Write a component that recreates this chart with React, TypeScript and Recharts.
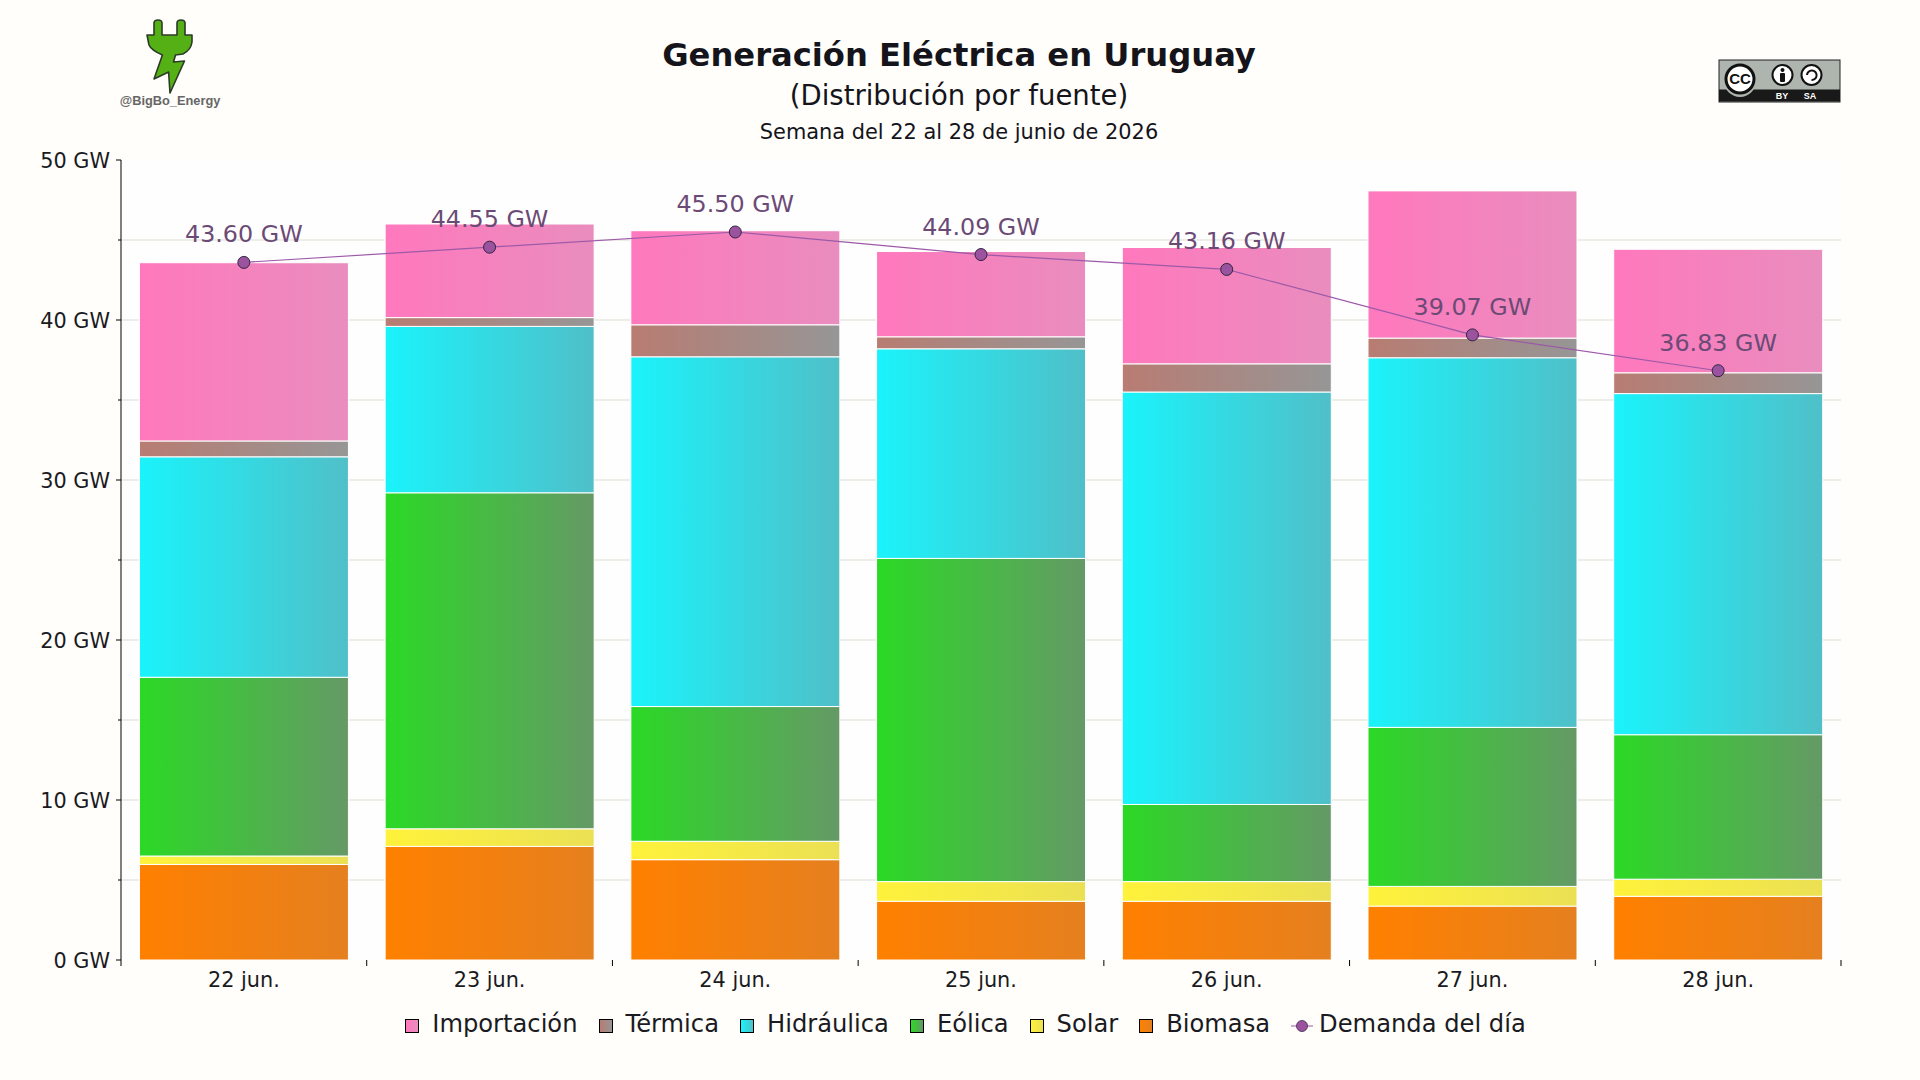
import { Bar, CartesianGrid, ComposedChart, LabelList, Legend, Line, XAxis, YAxis } from 'recharts';

const DAYS = ['22 jun.', '23 jun.', '24 jun.', '25 jun.', '26 jun.', '27 jun.', '28 jun.'];

const BIOMASA = [5.97, 7.1, 6.27, 3.67, 3.67, 3.37, 3.98];
const SOLAR = [0.53, 1.1, 1.15, 1.23, 1.23, 1.23, 1.07];
const EOLICA = [11.17, 21.0, 8.42, 20.2, 4.82, 9.94, 9.03];
const HIDRAULICA = [13.78, 10.4, 21.86, 13.1, 25.78, 23.1, 21.32];
const TERMICA = [0.99, 0.55, 2.0, 0.75, 1.76, 1.23, 1.3];
const IMPORTACION = [11.14, 5.85, 5.88, 5.33, 7.27, 9.2, 7.72];
const DEMANDA = [43.6, 44.55, 45.5, 44.09, 43.16, 39.07, 36.83];

const Y_TICKS = [0, 5, 10, 15, 20, 25, 30, 35, 40, 45, 50];
const GRID_VALUES = [5, 10, 15, 20, 25, 30, 35, 40, 45];

const FONT = '"DejaVu Sans", sans-serif';
const BG = '#fffefa';
const INK = '#1a1a22';

// stacked from the bottom up
const SOURCES = [
  { key: 'biomasa', name: 'Biomasa', from: '#ff8000', to: '#e5801f' },
  { key: 'solar', name: 'Solar', from: '#fff23b', to: '#ebe054' },
  { key: 'eolica', name: 'Eólica', from: '#2bd925', to: '#659966' },
  { key: 'hidraulica', name: 'Hidráulica', from: '#1af3fb', to: '#50bfc8' },
  { key: 'termica', name: 'Térmica', from: '#b87c72', to: '#969696' },
  { key: 'importacion', name: 'Importación', from: '#ff78bd', to: '#e98dbe' },
];

const tableData = DAYS.map((day, i) => ({
  day,
  biomasa: BIOMASA[i],
  solar: SOLAR[i],
  eolica: EOLICA[i],
  hidraulica: HIDRAULICA[i],
  termica: TERMICA[i],
  importacion: IMPORTACION[i],
  demanda: DEMANDA[i],
}));

const YTick = ({ x, y, payload }: any) => {
  const major = payload.value % 10 === 0;
  const axisX = x + 11;
  return (
    <g>
      <line x1={axisX - (major ? 5 : 3)} x2={axisX} y1={y} y2={y} stroke="#000" strokeWidth={1} />
      {major && (
        <text x={x} y={y} dy={8} textAnchor="end" fontSize={20.8} fontFamily={FONT} fill={INK}>
          {`${payload.value} GW`}
        </text>
      )}
    </g>
  );
};

// ticks sit on the edges between days, labels in the middle of each day
const DayTick = ({ x, y, payload, index, width, visibleTicksCount }: any) => {
  const half = width / visibleTicksCount / 2;
  return (
    <g>
      <line x1={x - half} x2={x - half} y1={y} y2={y + 6} stroke="#000" strokeWidth={1} />
      {index === visibleTicksCount - 1 && (
        <line x1={x + half} x2={x + half} y1={y} y2={y + 6} stroke="#000" strokeWidth={1} />
      )}
      <text x={x} y={y} dy={27} textAnchor="middle" fontSize={20.8} fontFamily={FONT} fill={INK}>
        {payload.value}
      </text>
    </g>
  );
};

const LegendRow = () => (
  <div
    style={{
      display: 'flex',
      justifyContent: 'center',
      alignItems: 'center',
      fontFamily: FONT,
      fontSize: 24.2,
      color: INK,
      gap: 21,
      paddingLeft: 11,
    }}
  >
    {[...SOURCES].reverse().map((s) => (
      <span key={s.key} style={{ display: 'inline-flex', alignItems: 'center', gap: 13 }}>
        <span
          style={{
            width: 12,
            height: 12,
            border: '1px solid #000',
            background: `linear-gradient(to right, ${s.from}, ${s.to})`,
            marginTop: 3,
          }}
        />
        {s.name}
      </span>
    ))}
    <span style={{ display: 'inline-flex', alignItems: 'center', gap: 6 }}>
      <svg width={22} height={14} style={{ marginTop: 3 }}>
        <line x1={0} x2={22} y1={7} y2={7} stroke="#9c59a8" strokeWidth={1} />
        <circle cx={11} cy={7} r={5.5} fill="#9b539f" stroke="#3c2a50" strokeWidth={0.8} />
      </svg>
      Demanda del día
    </span>
  </div>
);

const Decorations = () => (
  <svg width={1920} height={1080} style={{ position: 'absolute', left: 0, top: 0, pointerEvents: 'none' }}>
    <text x={959} y={66} textAnchor="middle" fontFamily={FONT} fontWeight={700} fontSize={32.2} fill="#14141a">
      Generación Eléctrica en Uruguay
    </text>
    <text x={959} y={105} textAnchor="middle" fontFamily={FONT} fontSize={27.5} fill="#14141a">
      (Distribución por fuente)
    </text>
    <text x={959} y={139} textAnchor="middle" fontFamily={FONT} fontSize={20.9} fill="#14141a">
      Semana del 22 al 28 de junio de 2026
    </text>

    <path
      d="M154,35 L154,23 Q154,20 158,20 Q162,20 162,23 L162,35 L177,35 L177,23 Q177,20 181,20 Q185,20 185,23 L185,35 L192,35 L192,42 Q191,50 183,54 L175.5,55 L173.5,62 L184.5,61 L170,93 L168.6,72 L154,79 L162.4,55 Q151,50 149,45 L147,35 Z"
      fill="#55b016"
      stroke="#2c3a28"
      strokeWidth={1.6}
      strokeLinejoin="round"
    />
    <text x={170} y={105} textAnchor="middle" fontFamily='"Liberation Sans", sans-serif' fontWeight={700} fontSize={12.8} fill="#666">
      @BigBo_Energy
    </text>

    <rect x={1719} y={60} width={121} height={42} fill="#aeb5ae" stroke="#222" strokeWidth={1} />
    <rect x={1719} y={89.5} width={121} height={12} fill="#191919" />
    <circle cx={1740} cy={81} r={16} fill="#aeb5ae" />
    <circle cx={1740} cy={79} r={14} fill="#fff" stroke="#111" strokeWidth={3} />
    <text x={1740} y={84} textAnchor="middle" fontFamily='"Liberation Sans", sans-serif' fontWeight={700} fontSize={15} fill="#111">
      CC
    </text>
    <circle cx={1782.5} cy={75} r={10} fill="#fff" stroke="#111" strokeWidth={2} />
    <circle cx={1782.5} cy={70} r={2} fill="#111" />
    <rect x={1780} y={73} width={5} height={9} rx={1} fill="#111" />
    <circle cx={1811.5} cy={75} r={10} fill="#fff" stroke="#111" strokeWidth={2} />
    <path d="M1807,75 A4.8,4.8 0 1 1 1811.5,80" fill="none" stroke="#111" strokeWidth={2} />
    <text x={1782} y={99} textAnchor="middle" fontFamily='"Liberation Sans", sans-serif' fontWeight={700} fontSize={9} fill="#fff">
      BY
    </text>
    <text x={1810} y={99} textAnchor="middle" fontFamily='"Liberation Sans", sans-serif' fontWeight={700} fontSize={9} fill="#fff">
      SA
    </text>
  </svg>
);

export default function App() {
  return (
    <div style={{ position: 'absolute', left: 0, top: 0, width: 1920, height: 1080, background: BG, overflow: 'hidden' }}>
      <ComposedChart
        width={1920}
        height={1080}
        data={tableData}
        barCategoryGap="7.5%"
        margin={{ top: 160, right: 79, bottom: 80, left: 61 }}
      >
        <defs>
          {SOURCES.map((s) => (
            <linearGradient key={s.key} id={`grad-${s.key}`} x1="0" y1="0" x2="1" y2="0">
              <stop offset="0%" stopColor={s.from} />
              <stop offset="100%" stopColor={s.to} />
            </linearGradient>
          ))}
        </defs>
        <CartesianGrid
          vertical={false}
          stroke="#e9e9e2"
          strokeWidth={1.5}
          fill="#fffeff"
          horizontalValues={GRID_VALUES}
        />
        <XAxis
          dataKey="day"
          height={40}
          axisLine={false}
          tickLine={false}
          tickSize={0}
          tickMargin={0}
          interval={0}
          tick={<DayTick />}
        />
        <YAxis
          width={60}
          domain={[0, 50]}
          ticks={Y_TICKS}
          interval={0}
          tickLine={false}
          tickSize={0}
          tickMargin={11}
          axisLine={{ stroke: '#000', strokeWidth: 1 }}
          tick={<YTick />}
        />
        {SOURCES.map((s) => (
          <Bar
            key={s.key}
            dataKey={s.key}
            name={s.name}
            stackId="gen"
            fill={`url(#grad-${s.key})`}
            stroke="#fff"
            strokeWidth={1}
            isAnimationActive={false}
          />
        ))}
        <Line
          dataKey="demanda"
          name="Demanda del día"
          type="linear"
          stroke="#9c59a8"
          strokeWidth={1.2}
          dot={{ r: 6, fill: '#9b539f', stroke: '#2e2540', strokeWidth: 1, fillOpacity: 1 }}
          isAnimationActive={false}
        >
          <LabelList
            dataKey="demanda"
            position="top"
            offset={20}
            formatter={(v: any) => `${Number(v).toFixed(2)} GW`}
            style={{ fill: '#6b4a75', fontSize: 23.8, fontFamily: FONT }}
          />
        </Line>
        <Legend
          content={<LegendRow />}
          verticalAlign="middle"
          wrapperStyle={{ position: 'absolute', left: 0, width: 1920, bottom: 'auto', top: 1010 }}
        />
      </ComposedChart>
      <Decorations />
    </div>
  );
}
